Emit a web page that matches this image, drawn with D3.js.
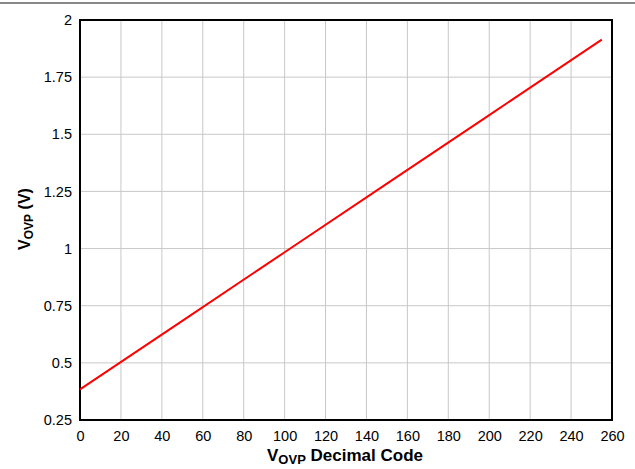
<!DOCTYPE html>
<html>
<head>
<meta charset="utf-8">
<script src="https://cdn.jsdelivr.net/npm/d3@7"></script>
<style>
  body { margin: 0; background: #fff; }
  svg { display: block; font-family: "Liberation Sans", Arial, sans-serif; }
</style>
</head>
<body>
<svg></svg>
<script>
let width = 635
let height = 469

// values
let codes = [0, 50, 100, 150, 200, 255]
let volts = [0.384, 0.684, 0.984, 1.284, 1.584, 1.914]
let xTicks = [0, 20, 40, 60, 80, 100, 120, 140, 160, 180, 200, 220, 240, 260]
let yTicks = [0.25, 0.5, 0.75, 1, 1.25, 1.5, 1.75, 2]

let margin = {top: 20, right: 23, bottom: 49, left: 80}

let x = d3.scaleLinear().domain([0, 260]).range([margin.left, width - margin.right])
let y = d3.scaleLinear().domain([0.25, 2]).range([height - margin.bottom, margin.top])

let svg = d3.select('svg')
    .attr('width', width)
    .attr('height', height)

// top rule
svg.append('line')
    .attr('x1', 0).attr('x2', width)
    .attr('y1', 3).attr('y2', 3)
    .attr('stroke', '#888')
    .attr('stroke-width', 2)

// grid
svg.append('g')
  .selectAll('line')
  .data(xTicks.slice(1, -1))
  .enter().append('line')
    .attr('x1', d => x(d)).attr('x2', d => x(d))
    .attr('y1', y(0.25)).attr('y2', y(2))
    .attr('stroke', '#c8c8c8')

svg.append('g')
  .selectAll('line')
  .data(yTicks.slice(1, -1))
  .enter().append('line')
    .attr('x1', x(0)).attr('x2', x(260))
    .attr('y1', d => y(d)).attr('y2', d => y(d))
    .attr('stroke', '#c8c8c8')

// axes (labels only)
let xAxis = svg.append('g')
    .attr('transform', `translate(0, ${y(0.25)})`)
    .call(d3.axisBottom(x).tickValues(xTicks).tickSize(0).tickPadding(11).tickFormat(d3.format('d')))
xAxis.select('.domain').remove()

let yAxis = svg.append('g')
    .attr('transform', `translate(${x(0)}, 0)`)
    .call(d3.axisLeft(y).tickValues(yTicks).tickSize(0).tickPadding(8).tickFormat(d => String(d)))
yAxis.select('.domain').remove()

svg.selectAll('.tick text')
    .attr('font-size', 14.5)
    .attr('font-family', '"Liberation Sans", Arial, sans-serif')
    .attr('fill', '#000')

// frame
svg.append('rect')
    .attr('x', x(0)).attr('y', y(2))
    .attr('width', x(260) - x(0))
    .attr('height', y(0.25) - y(2))
    .attr('fill', 'none')
    .attr('stroke', '#000')
    .attr('stroke-width', 2)

// data line
let line = d3.line()
    .x((d, i) => x(codes[i]))
    .y(d => y(d))

svg.append('path')
    .datum(volts)
    .attr('d', line)
    .attr('fill', 'none')
    .attr('stroke', '#ff0000')
    .attr('stroke-width', 2)

// axis titles
let xt = svg.append('text')
    .attr('x', 345)
    .attr('y', 461)
    .attr('text-anchor', 'middle')
    .attr('font-size', 17)
    .attr('font-weight', 'bold')
xt.append('tspan').text('V')
xt.append('tspan').text('OVP').attr('font-size', 13).attr('dy', 3)
xt.append('tspan').text(' Decimal Code').attr('dy', -3)

let yt = svg.append('text')
    .attr('transform', `translate(30, 219) rotate(-90)`)
    .attr('text-anchor', 'middle')
    .attr('font-size', 16)
    .attr('font-weight', 'bold')
yt.append('tspan').text('V')
yt.append('tspan').text('OVP').attr('font-size', 12).attr('dy', 3)
yt.append('tspan').text(' (V)').attr('dy', -3)
</script>
</body>
</html>
